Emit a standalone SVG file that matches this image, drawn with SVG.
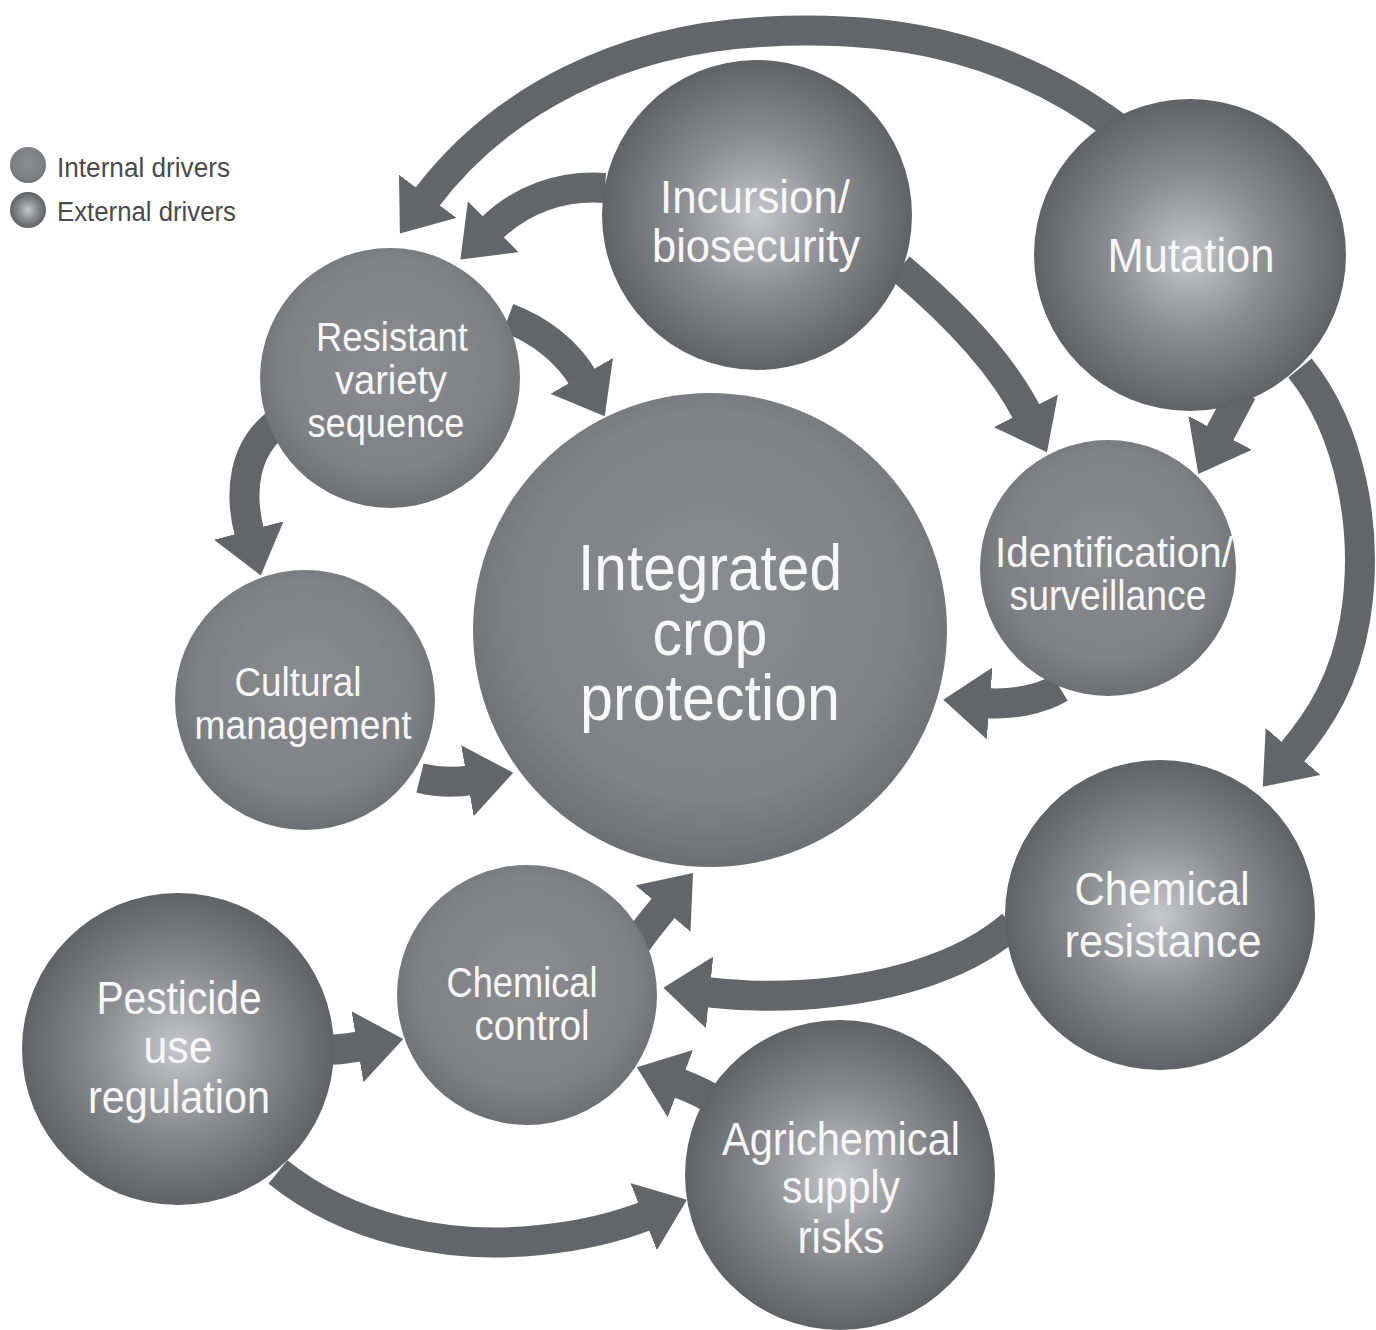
<svg xmlns="http://www.w3.org/2000/svg" width="1376" height="1330" viewBox="0 0 1376 1330">
<style>
.t{font-family:"Liberation Sans",Arial,sans-serif;fill:#f7f7f7;text-anchor:middle}
.lg{font-family:"Liberation Sans",Arial,sans-serif;fill:#4a4a4c;font-size:27px}
.c{fill:none;stroke:#646569;stroke-width:30;marker-end:url(#ah)}
.int{fill:url(#gi)}
.ext{fill:url(#ge)}
</style>
<defs>
<radialGradient id="gi" cx="0.5" cy="0.45" r="0.55">
<stop offset="0" stop-color="#8b8c90"/>
<stop offset="0.75" stop-color="#808185"/>
<stop offset="1" stop-color="#6e6f73"/>
</radialGradient>
<radialGradient id="ge" cx="0.5" cy="0.5" r="0.55">
<stop offset="0" stop-color="#c6c7ca"/>
<stop offset="0.45" stop-color="#8d8e92"/>
<stop offset="1" stop-color="#58595d"/>
</radialGradient>
<marker id="ah" viewBox="0 0 10 10" refX="1" refY="5" markerWidth="1.55" markerHeight="2.4" markerUnits="strokeWidth" orient="auto" preserveAspectRatio="none">
<path d="M0,0 L10,5 L0,10 z" fill="#646569"/>
</marker>
</defs>
<rect width="1376" height="1330" fill="#ffffff"/>
<g id="legend">
<circle cx="28" cy="165" r="18" class="int"/>
<circle cx="28" cy="210" r="18" class="ext"/>
<text class="lg" x="57" y="177" textLength="173" lengthAdjust="spacingAndGlyphs">Internal drivers</text>
<text class="lg" x="57" y="221" textLength="179" lengthAdjust="spacingAndGlyphs">External drivers</text>
</g>
<g id="connectors">
<path class="c" d="M 1118 128 C 1000 40, 880 25, 760 32 C 620 40, 500 100, 425 200"/>
<path class="c" d="M 605 188 C 560 185, 520 200, 490 230"/>
<path class="c" d="M 900 268 C 950 310, 1000 360, 1028 415"/>
<path class="c" d="M 1242 392 L 1218 437"/>
<path class="c" d="M 1300 368 C 1350 430, 1370 530, 1355 620 C 1345 680, 1320 720, 1290 755"/>
<path class="c" d="M 508 318 C 540 330, 568 352, 584 380"/>
<path class="c" d="M 275 425 C 245 450, 238 490, 250 535"/>
<path class="c" d="M 420 778 C 440 783, 455 783, 472 780"/>
<path class="c" d="M 1060 688 C 1040 700, 1010 705, 985 703"/>
<path class="c" d="M 1012 925 C 960 970, 880 990, 800 995 C 760 997, 735 995, 705 992"/>
<path class="c" d="M 635 945 C 645 930, 655 918, 666 905"/>
<path class="c" d="M 325 1050 C 340 1050, 350 1048, 362 1046"/>
<path class="c" d="M 722 1105 C 708 1095, 692 1088, 676 1082"/>
<path class="c" d="M 278 1172 C 350 1230, 450 1250, 540 1240 C 580 1236, 615 1228, 648 1215"/>
</g>
<g id="node-icp">
<circle cx="710" cy="630" r="237" class="int"/>
<text class="t" font-size="64"><tspan x="710" y="590" textLength="264" lengthAdjust="spacingAndGlyphs">Integrated</tspan><tspan x="710" y="655" textLength="115" lengthAdjust="spacingAndGlyphs">crop</tspan><tspan x="710" y="720" textLength="260" lengthAdjust="spacingAndGlyphs">protection</tspan></text>
</g>
<g id="node-incursion">
<circle cx="757" cy="215" r="155" class="ext"/>
<text class="t" font-size="47"><tspan x="755" y="213" textLength="190" lengthAdjust="spacingAndGlyphs">Incursion/</tspan><tspan x="756" y="262" textLength="208" lengthAdjust="spacingAndGlyphs">biosecurity</tspan></text>
</g>
<g id="node-mutation">
<circle cx="1190" cy="255" r="156" class="ext"/>
<text class="t" font-size="49" x="1191" y="272" textLength="167" lengthAdjust="spacingAndGlyphs">Mutation</text>
</g>
<g id="node-resistant">
<circle cx="390" cy="378" r="130" class="int"/>
<text class="t" font-size="40"><tspan x="392" y="351" textLength="152" lengthAdjust="spacingAndGlyphs">Resistant</tspan><tspan x="391" y="394" textLength="112" lengthAdjust="spacingAndGlyphs">variety</tspan><tspan x="386" y="437" textLength="157" lengthAdjust="spacingAndGlyphs">sequence</tspan></text>
</g>
<g id="node-cultural">
<circle cx="305" cy="700" r="130" class="int"/>
<text class="t" font-size="40"><tspan x="298" y="696" textLength="127" lengthAdjust="spacingAndGlyphs">Cultural</tspan><tspan x="303" y="739" textLength="217" lengthAdjust="spacingAndGlyphs">management</tspan></text>
</g>
<g id="node-identification">
<circle cx="1108" cy="568" r="128" class="int"/>
<text class="t" font-size="42"><tspan x="1114" y="567" textLength="238" lengthAdjust="spacingAndGlyphs">Identification/</tspan><tspan x="1108" y="610" textLength="197" lengthAdjust="spacingAndGlyphs">surveillance</tspan></text>
</g>
<g id="node-chemres">
<circle cx="1160" cy="915" r="155" class="ext"/>
<text class="t" font-size="47"><tspan x="1162" y="905" textLength="175" lengthAdjust="spacingAndGlyphs">Chemical</tspan><tspan x="1163" y="957" textLength="197" lengthAdjust="spacingAndGlyphs">resistance</tspan></text>
</g>
<g id="node-chemcontrol">
<circle cx="527" cy="995" r="130" class="int"/>
<text class="t" font-size="42"><tspan x="522" y="997" textLength="151" lengthAdjust="spacingAndGlyphs">Chemical</tspan><tspan x="532" y="1040" textLength="115" lengthAdjust="spacingAndGlyphs">control</tspan></text>
</g>
<g id="node-pesticide">
<circle cx="178" cy="1049" r="156" class="ext"/>
<text class="t" font-size="46"><tspan x="179" y="1014" textLength="165" lengthAdjust="spacingAndGlyphs">Pesticide</tspan><tspan x="178" y="1063" textLength="69" lengthAdjust="spacingAndGlyphs">use</tspan><tspan x="179" y="1113" textLength="182" lengthAdjust="spacingAndGlyphs">regulation</tspan></text>
</g>
<g id="node-agrichemical">
<circle cx="840" cy="1175" r="155" class="ext"/>
<text class="t" font-size="47"><tspan x="841" y="1155" textLength="238" lengthAdjust="spacingAndGlyphs">Agrichemical</tspan><tspan x="841" y="1203" textLength="118" lengthAdjust="spacingAndGlyphs">supply</tspan><tspan x="841" y="1253" textLength="87" lengthAdjust="spacingAndGlyphs">risks</tspan></text>
</g>
</svg>
